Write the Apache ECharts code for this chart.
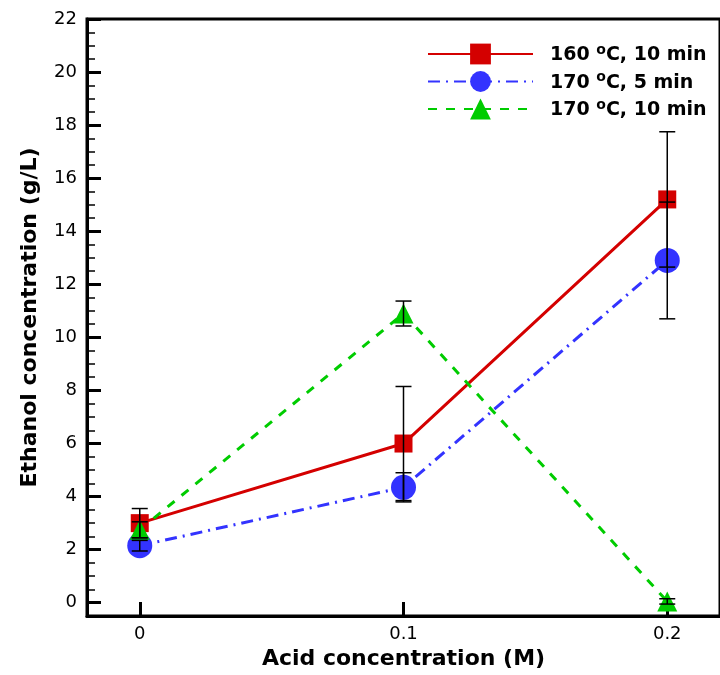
<!DOCTYPE html>
<html>
<head>
<meta charset="utf-8">
<script src="https://cdn.jsdelivr.net/npm/echarts@6/dist/echarts.min.js"></script>
<style>
  * { margin: 0; padding: 0; }
  body { background: #fff; }
  #main { width: 720px; height: 675px; }
</style>
</head>
<body>
<div id="main"></div>
<script>
  // acid concentration (M)
  var acid = [0, 0.1, 0.2];
  // ethanol concentration (g/L) and error bars
  var s160_10 = [3.0, 6.0, 15.2];
  var s160_10Err = [0.55, 2.15, 2.55];
  var s170_5 = [2.15, 4.35, 12.9];
  var s170_5Err = [0.2, 0.55, 2.2];
  var s170_10 = [2.75, 10.9, 0.05];
  var s170_10Err = [0.3, 0.47, 0.1];
  var names = ['160 °C, 10 min', '170 °C, 5 min', '170 °C, 10 min'];
  var xTicks = [0, 0.1, 0.2];
  var yTicks = [0, 2, 4, 6, 8, 10, 12, 14, 16, 18, 20, 22];
  var yMinor = [];
  for (var i = 0; i < yTicks.length - 1; i++) {
    yMinor.push(yTicks[i] + 0.5, yTicks[i] + 1, yTicks[i] + 1.5);
  }

  var font = 'DejaVu Sans, Liberation Sans, sans-serif';

  function pts(ys) {
    return acid.map(function (x, i) { return [x, ys[i]]; });
  }
  function errPts(ys, es) {
    return acid.map(function (x, i) { return [x, ys[i], es[i]]; });
  }
  function errBar(params, api) {
    var x = api.value(0), y = api.value(1), e = api.value(2);
    var top = api.coord([x, y + e]);
    var bot = api.coord([x, y - e]);
    var hw = 8;
    var st = { stroke: '#000', lineWidth: 1.5 };
    return {
      type: 'group',
      children: [
        { type: 'line', shape: { x1: top[0], y1: top[1], x2: bot[0], y2: bot[1] }, style: st },
        { type: 'line', shape: { x1: top[0] - hw, y1: top[1], x2: top[0] + hw, y2: top[1] }, style: st },
        { type: 'line', shape: { x1: bot[0] - hw, y1: bot[1], x2: bot[0] + hw, y2: bot[1] }, style: st }
      ]
    };
  }

  var chart = echarts.init(document.getElementById('main'));
  chart.setOption({
    animation: false,
    textStyle: { fontFamily: font },
    grid: {
      left: 87, top: 19, right: -5, bottom: 59,
      show: true, borderColor: '#000', borderWidth: 3
    },
    legend: {
      orient: 'vertical',
      left: 427,
      top: 43,
      padding: 0,
      itemWidth: 105,
      itemHeight: 26,
      itemGap: 5.5,
      data: names,
      formatter: function (n) {
        var p = n.split('°');
        return '{t|' + p[0] + '}{s|o}{t|' + p[1] + '}';
      },
      textStyle: {
        fontFamily: font, fontSize: 19, fontWeight: 'bold', color: '#000',
        padding: [0, 0, 0, 12],
        rich: {
          t: { fontFamily: font, fontSize: 19, fontWeight: 'bold', color: '#000', lineHeight: 22, verticalAlign: 'bottom' },
          s: { fontFamily: font, fontSize: 14, fontWeight: 'bold', color: '#000', lineHeight: 14, verticalAlign: 'bottom', padding: [0, 0, 8, 0] }
        }
      }
    },
    xAxis: {
      type: 'value',
      min: -0.02,
      max: 0.22,
      name: 'Acid concentration (M)',
      nameLocation: 'middle',
      nameGap: 30,
      nameTextStyle: { fontFamily: font, fontSize: 22, fontWeight: 'bold', color: '#000' },
      axisLine: { onZero: false, lineStyle: { color: '#000', width: 3 } },
      axisTick: { inside: true, length: 14, customValues: xTicks, lineStyle: { color: '#000', width: 3 } },
      axisLabel: { customValues: xTicks, margin: 9, fontSize: 18, color: '#000', fontFamily: font },
      splitLine: { show: false }
    },
    yAxis: [{
      type: 'value',
      min: -0.5,
      max: 22,
      name: 'Ethanol concentration (g/L)',
      nameLocation: 'middle',
      nameGap: 46,
      nameTextStyle: { fontFamily: font, fontSize: 22, fontWeight: 'bold', color: '#000' },
      axisLine: { onZero: false, lineStyle: { color: '#000', width: 3 } },
      axisTick: { inside: true, length: 14, customValues: yTicks, lineStyle: { color: '#000', width: 3 } },
      axisLabel: { customValues: yTicks, margin: 10, fontSize: 18, color: '#000', fontFamily: font },
      splitLine: { show: false }
    }, {
      type: 'value',
      position: 'left',
      min: -0.5,
      max: 22,
      axisLine: { show: false, onZero: false },
      axisTick: { inside: true, length: 8, customValues: yMinor, lineStyle: { color: '#000', width: 1.5 } },
      axisLabel: { show: false },
      splitLine: { show: false }
    }],
    series: [
      {
        name: names[0], type: 'line', data: pts(s160_10),
        symbol: 'rect', symbolSize: 18,
        itemStyle: { color: '#d40000' },
        lineStyle: { color: '#d40000', width: 3 }
      },
      {
        name: names[1], type: 'line', data: pts(s170_5),
        symbol: 'circle', symbolSize: 25,
        itemStyle: { color: '#3333ff' },
        lineStyle: { color: '#3333ff', width: 3, type: [12, 6, 2, 6] }
      },
      {
        name: names[2], type: 'line', data: pts(s170_10),
        symbol: 'triangle', symbolSize: 20,
        itemStyle: { color: '#00cc00' },
        lineStyle: { color: '#00cc00', width: 3, type: [9, 9] }
      },
      { type: 'custom', renderItem: errBar, data: errPts(s160_10, s160_10Err), z: 10 },
      { type: 'custom', renderItem: errBar, data: errPts(s170_5, s170_5Err), z: 10 },
      { type: 'custom', renderItem: errBar, data: errPts(s170_10, s170_10Err), z: 10 }
    ]
  });
</script>
</body>
</html>
